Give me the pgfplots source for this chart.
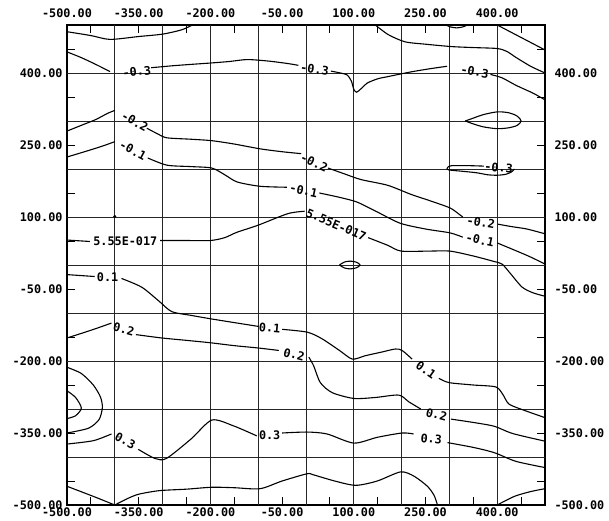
\documentclass[border=0pt]{standalone}
\usepackage{fontspec}
\setmainfont{DejaVu Sans Mono}
\usepackage{pgfplots}
\pgfplotsset{compat=1.18}
\newcommand{\pf}{\fontsize{11.8}{13}\selectfont\bfseries}
\tikzset{lab/.style={font=\pf, inner sep=0pt}}
\pgfplotsset{
  common/.style={
    at={(0,0)}, anchor=south west, scale only axis,
    width=478pt, height=480pt,
    xmin=-500, xmax=500, ymin=-500, ymax=500,
    xtick={-500,-350,-200,-50,100,250,400},
    ytick={-500,-350,-200,-50,100,250,400},
    xticklabels={-500.00,-350.00,-200.00,-50.00,100.00,250.00,400.00},
    yticklabels={-500.00,-350.00,-200.00,-50.00,100.00,250.00,400.00},
    major tick length=0pt,
    ticklabel style={font=\pf, black},
  },
  cl/.style={black, line width=1.1pt, smooth, tension=0.45},
}
\begin{document}
\begin{tikzpicture}
\begin{axis}[common,
    minor xtick={-450,-400,...,450},
    minor ytick={-450,-400,...,450},
    minor tick length=8pt,
    extra x ticks={-400,-300,...,400},
    extra y ticks={-400,-300,...,400},
    extra x tick labels={}, extra y tick labels={},
    extra tick style={grid=major, major tick length=0pt},
    grid style={black!85, line width=0.9pt},
    minor tick style={black, line width=0.9pt},
    axis line style={black, line width=1.1pt},
    xticklabel style={yshift=1pt},
    yticklabel style={xshift=-1pt},
    clip=true,
  ]
% top-left unlabeled
\addplot[cl] coordinates {(-500,486) (-450,478) (-410,470) (-350,476) (-300,481) (-260,490) (-238,500)};
% -0.3 main
\addplot[cl] coordinates {(-500,444) (-470,432) (-440,418) (-410,403)};
\addplot[cl] coordinates {(-324,411) (-280,415) (-240,418) (-197,421) (-160,424) (-123,428) (-80,425) (-40,420) (-16,416)};
\addplot[cl] coordinates {(52,404) (72,400) (86,396) (95,383) (100,366) (106,360) (116,368) (128,379) (150,388) (169,392) (218,402) (260,409) (295,414)};
\addplot[cl] coordinates {(386,397) (410,390) (440,374) (475,358) (500,344)};
% top right lines
\addplot[cl] coordinates {(145,500) (172,480) (207,465) (250,460) (305,455) (350,453) (400,451) (420,445) (440,432) (470,414) (500,400)};
\addplot[cl] coordinates {(400,500) (450,474) (500,448)};
\addplot[cl] coordinates {(293,500) (302,496) (315,494) (328,496) (338,500)};
% closed contour near (390,300)
\addplot[black, line width=1.1pt, smooth, tension=0.5] coordinates {(333,300) (350,306) (370,313) (400,319) (425,317) (442,310) (450,300) (442,291) (425,286) (400,284) (370,288) (350,294) (333,300)};
% small -0.3 contour near (360,200)
\addplot[cl] coordinates {(372,206) (340,207) (305,207) (297,204) (295,201) (299,198) (330,195) (358,192) (380,188) (400,187) (418,189) (430,194) (436,200)};
% -0.2
\addplot[cl] coordinates {(-500,279) (-470,291) (-440,303) (-415,316) (-400,322)};
\addplot[cl] coordinates {(-333,285) (-310,273) (-291,265) (-240,262) (-197,259) (-150,252) (-96,242) (-50,236) (-10,232)};
\addplot[cl] coordinates {(46,202) (80,190) (115,178) (171,166) (220,147) (259,134) (301,119) (320,106) (328,100)};
\addplot[cl] coordinates {(402,85) (430,80) (462,75) (500,65)};
% -0.1
\addplot[cl] coordinates {(-500,225) (-460,237) (-425,248) (-400,257)};
\addplot[cl] coordinates {(-331,223) (-291,208) (-240,205) (-197,202) (-170,188) (-144,173) (-96,164) (-40,162)};
\addplot[cl] coordinates {(28,150) (70,141) (107,131) (150,110) (197,87) (250,75) (301,67) (328,58)};
\addplot[cl] coordinates {(400,46) (441,29) (469,17) (500,2)};
% 5.55E-017
\addplot[cl] coordinates {(-500,52) (-452,49)};
\addplot[cl] coordinates {(-305,51) (-250,51) (-200,51) (-170,57) (-145,68) (-100,83) (-38,107) (-3,112)};
\addplot[cl] coordinates {(130,57) (171,41) (199,29) (259,29) (301,29) (349,19) (391,8) (410,2) (427,-17) (452,-46) (475,-58) (500,-65)};
\addplot[only marks, mark=*, mark size=1.3pt, black] coordinates {(-400,101)};
% small ellipse near (90,0)
\addplot[black, line width=1.1pt, smooth, tension=0.6] coordinates {(70,0) (80,6) (92,8) (105,6) (113,0) (105,-6) (92,-8) (80,-6) (70,0)};
% 0.1
\addplot[cl] coordinates {(-500,-20) (-442,-24)};
\addplot[cl] coordinates {(-386,-28) (-344,-46) (-309,-74) (-281,-97) (-240,-105) (-200,-112) (-150,-120) (-99,-128)};
\addplot[cl] coordinates {(-50,-134) (3,-140) (34,-154) (70,-178) (97,-196) (124,-189) (160,-181) (187,-175) (201,-178) (222,-196)};
\addplot[cl] coordinates {(278,-236) (299,-245) (350,-250) (397,-254) (412,-270) (425,-290) (460,-304) (500,-318)};
% 0.2
\addplot[cl] coordinates {(-500,-152) (-450,-136) (-407,-121)};
\addplot[cl] coordinates {(-356,-145) (-302,-152) (-250,-157) (-200,-162) (-150,-168) (-99,-173) (-57,-178)};
\addplot[cl] coordinates {(6,-192) (16,-210) (30,-245) (55,-266) (100,-278) (145,-276) (194,-271) (215,-285) (240,-300)};
\addplot[cl] coordinates {(303,-321) (350,-328) (394,-336) (432,-351) (500,-367)};
% closed arcs at left
\addplot[cl] coordinates {(-500,-213) (-470,-226) (-445,-250) (-430,-275) (-426,-297) (-433,-322) (-455,-340) (-500,-350)};
\addplot[cl] coordinates {(-500,-262) (-482,-276) (-470,-298) (-482,-314) (-500,-320)};
% 0.3
\addplot[cl] coordinates {(-500,-373) (-445,-366) (-407,-352)};
\addplot[cl] coordinates {(-351,-384) (-316,-403) (-292,-403) (-240,-362) (-197,-323) (-152,-335) (-103,-356)};
\addplot[cl] coordinates {(-50,-350) (2,-348) (44,-352) (100,-371) (149,-359) (201,-350) (225,-352)};
\addplot[cl] coordinates {(296,-370) (350,-380) (394,-391) (439,-409) (500,-422)};
% bottom lines
\addplot[cl] coordinates {(-500,-461) (-445,-482) (-400,-500)};
\addplot[cl] coordinates {(-400,-500) (-370,-485) (-348,-477) (-306,-470) (-250,-467) (-197,-463) (-150,-464) (-96,-466) (-50,-450) (2,-435) (15,-437) (60,-450) (104,-459) (149,-450) (198,-431) (226,-440) (254,-461) (268,-480) (275,-500)};
\addplot[cl] coordinates {(400,-500) (436,-482) (470,-472) (500,-466)};
% labels
\node[lab, rotate=6]   at (axis cs:-354,403) {-0.3};
\node[lab, rotate=-8]  at (axis cs:18,408) {-0.3};
\node[lab, rotate=-10] at (axis cs:353,403) {-0.3};
\node[lab, rotate=-5]  at (axis cs:403,203) {-0.3};
\node[lab, rotate=-30] at (axis cs:-358,299) {-0.2};
\node[lab, rotate=-25] at (axis cs:17,214) {-0.2};
\node[lab, rotate=-10] at (axis cs:366,89) {-0.2};
\node[lab, rotate=-28] at (axis cs:-362,239) {-0.1};
\node[lab, rotate=-12] at (axis cs:-5,155) {-0.1};
\node[lab, rotate=-12] at (axis cs:364,52) {-0.1};
\node[lab] at (axis cs:-378,50) {5.55E-017};
\node[lab, rotate=-23] at (axis cs:63,84) {5.55E-017};
\node[lab] at (axis cs:-415,-26) {0.1};
\node[lab, rotate=-5] at (axis cs:-76,-131) {0.1};
\node[lab, rotate=-35] at (axis cs:251,-218) {0.1};
\node[lab, rotate=-15] at (axis cs:-381,-134) {0.2};
\node[lab, rotate=-15] at (axis cs:-25,-187) {0.2};
\node[lab, rotate=-15] at (axis cs:273,-312) {0.2};
\node[lab, rotate=-28] at (axis cs:-378,-366) {0.3};
\node[lab] at (axis cs:-76,-355) {0.3};
\node[lab, rotate=-5] at (axis cs:262,-362) {0.3};
\end{axis}
\begin{axis}[common,
    xticklabel pos=right, yticklabel pos=right,
    axis line style={draw=none},
    xticklabel style={yshift=4pt},
    yticklabel style={xshift=6pt},
  ]
\end{axis}
\pgfresetboundingbox
\path (-67pt,-15pt) rectangle (542pt,505pt);
\end{tikzpicture}
\end{document}
